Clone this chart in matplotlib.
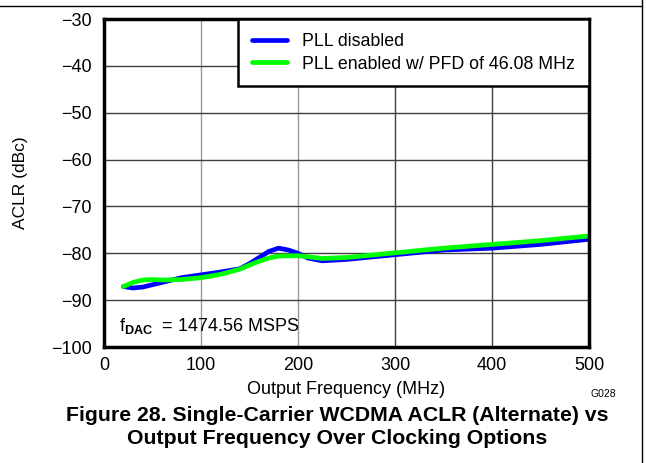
#ACLR vs output frequency
import matplotlib
matplotlib.use('Agg')
import matplotlib.pyplot as plt
from matplotlib.lines import Line2D

plt.rcParams['font.family'] = ['Liberation Sans', 'DejaVu Sans']
plt.rcParams['mathtext.fontset'] = 'custom'
plt.rcParams['mathtext.rm'] = 'Liberation Sans'
plt.rcParams['mathtext.bf'] = 'Liberation Sans:bold'

# data
freq_off = [20, 30, 40, 50, 60, 80, 100, 120, 140, 150, 160, 170, 180, 190,
            200, 210, 225, 250, 300, 350, 400, 450, 500]
aclr_off = [-87.1, -87.4, -87.2, -86.7, -86.2, -85.2, -84.6, -84.0, -83.3, -82.2,
            -80.9, -79.6, -78.9, -79.3, -80.0, -81.0, -81.6, -81.3, -80.3, -79.3,
            -78.9, -78.1, -77.0]
freq_on = [20, 30, 40, 50, 60, 80, 100, 120, 140, 150, 160, 170, 180, 200,
           225, 250, 300, 350, 400, 450, 500]
aclr_on = [-87.1, -86.2, -85.7, -85.6, -85.7, -85.6, -85.2, -84.5, -83.4, -82.5,
           -81.7, -81.0, -80.6, -80.5, -81.1, -80.9, -79.9, -78.9, -78.1, -77.3,
           -76.3]
labels = ['PLL disabled', 'PLL enabled w/ PFD of 46.08 MHz']
xticks = [0, 100, 200, 300, 400, 500]
yticks = [-100, -90, -80, -70, -60, -50, -40, -30]

fig = plt.figure(figsize=(6.47, 4.63), dpi=100)
ax = fig.add_axes([0.1607, 0.2505, 0.7497, 0.7084])

ax.plot(freq_off, aclr_off, color='#0000ff', lw=3.4, label=labels[0], solid_capstyle='round')
ax.plot(freq_on, aclr_on, color='#00ff00', lw=3.4, label=labels[1], solid_capstyle='round')

ax.set_xlim(0, 500)
ax.set_ylim(-100, -30)
ax.set_xticks(xticks)
ax.set_yticks(yticks)
ax.set_yticklabels(['\u2212%d' % abs(v) for v in yticks])
ax.grid(True, color='#404040', lw=1.0)
# the first two vertical grid lines are lighter in the original
for gl in ax.get_xgridlines()[1:3]:
    gl.set_color('#999999')
ax.set_axisbelow(True)
ax.tick_params(length=0, labelsize=13)
ax.tick_params(axis='y', pad=8.6)
ax.tick_params(axis='x', pad=7.5)
for s in ax.spines.values():
    s.set_linewidth(2.5)
    s.set_color('black')

ax.set_xlabel('Output Frequency (MHz)', fontsize=13, labelpad=5)
ax.set_ylabel('ACLR (dBc)', fontsize=12.5, labelpad=17)

leg = ax.legend(loc='upper right', bbox_to_anchor=(1, 1), borderaxespad=0,
                fancybox=False, framealpha=1, edgecolor='black', fontsize=12.8,
                handlelength=2.0, handletextpad=0.85, borderpad=0.78, labelspacing=0.32)
leg.get_frame().set_linewidth(1.8)

ax.text(16, -95.5, r'$\mathregular{f_{\bf DAC}}$  = 1474.56 MSPS', fontsize=13, va='center')

fig.text(0.932, 0.150, 'G028', fontsize=7.5, ha='center', va='center')
fig.text(0.521, 0.078, 'Figure 28. Single-Carrier WCDMA ACLR (Alternate) vs\n'
         'Output Frequency Over Clocking Options', fontsize=15.3, fontweight='bold',
         ha='center', va='center', linespacing=1.25)

# page border
fig.add_artist(Line2D([0, 0.992], [0.987, 0.987], color='black', lw=1, transform=fig.transFigure))
fig.add_artist(Line2D([0.992, 0.992], [0, 1], color='black', lw=1, transform=fig.transFigure))

fig.savefig('out.png', dpi=100)
